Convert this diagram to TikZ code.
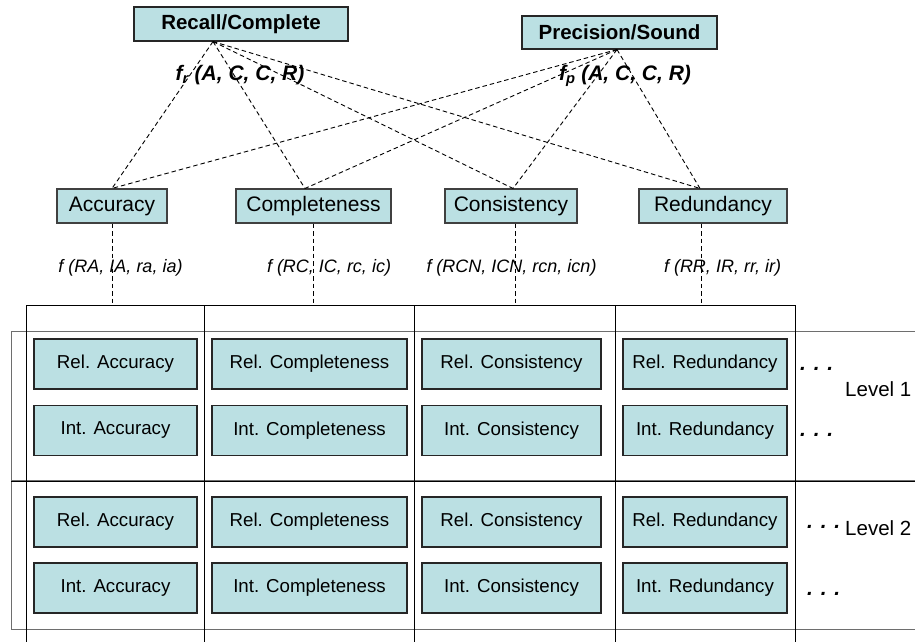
\documentclass[tikz,border=0pt]{standalone}
\usepackage{fontspec}
\setmainfont{Liberation Sans}
\definecolor{cellfill}{RGB}{187,224,227}
\definecolor{levelgray}{RGB}{110,110,110}
\begin{document}
\begin{tikzpicture}[x=1pt,y=-1pt,
  topbox/.style={draw=black!85,fill=cellfill,line width=1.1pt,inner sep=0pt,
    font=\fontsize{20.5}{24}\selectfont\bfseries},
  dimbox/.style={draw=black!75,fill=cellfill,line width=1.1pt,inner sep=0pt,
    minimum height=34,font=\fontsize{21}{25}\selectfont},
  cellbox/.style={draw=black!85,fill=cellfill,line width=1.2pt,inner sep=0pt,
    minimum height=50,font=\fontsize{18.7}{22}\selectfont},
  flabel/.style={inner sep=0pt,font=\fontsize{18}{21}\selectfont\itshape},
  agglabel/.style={inner sep=0pt,font=\fontsize{21}{24}\selectfont\bfseries\itshape},
  dots/.style={inner sep=0pt,anchor=base west,font=\fontsize{21}{24}\selectfont\bfseries\itshape},
  levellabel/.style={inner sep=0pt,anchor=west,font=\fontsize{20.5}{24}\selectfont},
  colbox/.style={draw=black,line width=1.4pt,anchor=north west,inner sep=0pt,
    minimum height=360},
  levelbox/.style={draw=levelgray,line width=1.4pt,anchor=north west,inner sep=0pt,
    minimum width=930,minimum height=149},
  link/.style={draw=black,line width=0.9pt,dash pattern=on 4.5pt off 3pt}
]
\useasboundingbox (0,0) rectangle (915,642);
\clip (0,0) rectangle (915,642);

% aggregate measures
\node[topbox,minimum width=214,minimum height=34] (rc) at (241,24) {Recall/Complete};
\node[topbox,minimum width=195,minimum height=33] (ps) at (619.5,32.5) {Precision/Sound};
\node[agglabel] (frl) at (240,75) {f\textsubscript{r} (A, C, C, R)};
\node[agglabel] (fpl) at (625,76) {f\textsubscript{p} (A, C, C, R)};

% quality dimensions
\node[dimbox,minimum width=110] (acc) at (112,206) {Accuracy};
\node[dimbox,minimum width=155] (cmp) at (313.5,206) {Completeness};
\node[dimbox,minimum width=132] (cns) at (511,206) {Consistency};
\node[dimbox,minimum width=148] (red) at (713,206) {Redundancy};

\node[flabel] (fa) at (120.5,268) {f (RA, IA, ra, ia)};
\node[flabel] (fc) at (329,268) {f (RC, IC, rc, ic)};
\node[flabel] (fn) at (511.5,268) {f (RCN, ICN, rcn, icn)};
\node[flabel] (fr) at (722.5,268) {f (RR, IR, rr, ir)};

% levels
\node[levelbox] (lv1) at (11,331) {};
\node[levelbox] (lv2) at (11,480) {};
\draw[black,line width=1.4pt] (lv1.south west) -- (lv1.south east);

% columns
\node[colbox,minimum width=178] (col1) at (26,305) {};
\node[colbox,minimum width=210] (col2) at (204,305) {};
\node[colbox,minimum width=201] (col3) at (414,305) {};
\node[colbox,minimum width=180] (col4) at (615,305) {};

% measure cells
\foreach \n/\x/\w/\t in {a/115.5/163/Accuracy, c/309.5/195/Completeness,
                         n/511.5/179/Consistency, r/705/164/Redundancy}{
  \node[cellbox,minimum width=\w] (\n1r) at (\x,364)   {Rel. \t};
  \node[cellbox,minimum width=\w] (\n1i) at (\x,430.5) {Int. \t};
  \node[cellbox,minimum width=\w] (\n2r) at (\x,522)   {Rel. \t};
  \node[cellbox,minimum width=\w] (\n2i) at (\x,588)   {Int. \t};
}

\node[dots] (d1r) at (800,370) {. . .};
\node[dots] (d1i) at (800,436.5) {. . .};
\node[dots] (d2r) at (807,528) {. . .};
\node[dots] (d2i) at (807,595) {. . .};
\node[levellabel] (l1) at (845,389) {Level 1};
\node[levellabel] (l2) at (845,528) {Level 2};

% connector end points
\coordinate (rcP) at ([xshift=-28pt]rc.south);
\coordinate (psP) at ([xshift=-2.5pt]ps.south);
\coordinate (accN) at (acc.north);
\coordinate (cmpN) at ([xshift=-8.5pt]cmp.north);
\coordinate (cnsN) at ([xshift=2pt]cns.north);
\coordinate (redN) at ([xshift=-13pt]red.north);
\coordinate (accS) at (acc.south);
\coordinate (cmpS) at ([xshift=-0.5pt]cmp.south);
\coordinate (cnsS) at ([xshift=4pt]cns.south);
\coordinate (redS) at ([xshift=-12pt]red.south);

\foreach \d in {accN,cmpN,cnsN,redN}{
  \draw[link] (rcP) -- (\d);
  \draw[link] (psP) -- (\d);
}
\draw[link] (accS) -- (accS |- col1.north);
\draw[link] (cmpS) -- (cmpS |- col2.north);
\draw[link] (cnsS) -- (cnsS |- col3.north);
\draw[link] (redS) -- (redS |- col4.north);
\end{tikzpicture}
\end{document}
